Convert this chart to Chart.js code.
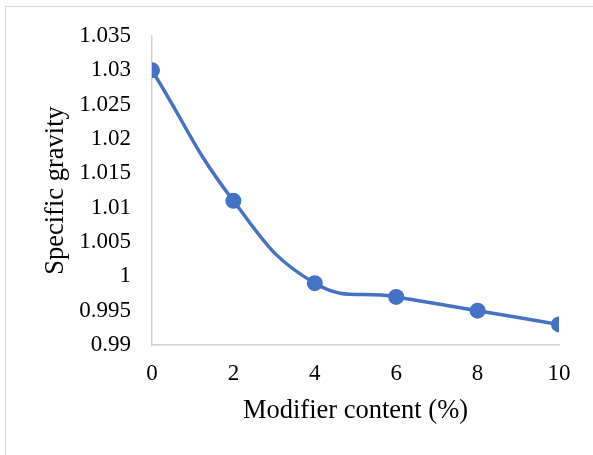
<!DOCTYPE html>
<html>
<head>
<meta charset="utf-8">
<script src="https://cdn.jsdelivr.net/npm/chart.js@4/dist/chart.umd.min.js"></script>
<style>
  html, body { margin: 0; padding: 0; background: #ffffff; }
  #wrap { position: relative; width: 593px; height: 455px; overflow: hidden; }
  #frame { position: absolute; left: 5px; top: 6px; width: 700px; height: 600px;
           border: 1.5px solid #d9d9d9; box-sizing: border-box; }
  #c { position: absolute; left: 0; top: 0; }
</style>
</head>
<body>
<div id="wrap">
  <div id="frame"></div>
  <canvas id="c" width="593" height="455"></canvas>
</div>
<script>
// Modifier content (%) and measured specific gravity
const modifierContent = [0, 2, 4, 6, 8, 10];
const specificGravity = [1.03, 1.011, 0.999, 0.997, 0.995, 0.993];

const xTickValues = [0, 2, 4, 6, 8, 10];
const yTickValues = [0.99, 0.995, 1, 1.005, 1.01, 1.015, 1.02, 1.025, 1.03, 1.035];
const yTickLabels = ['0.99', '0.995', '1', '1.005', '1.01', '1.015', '1.02', '1.025', '1.03', '1.035'];

const xTitle = 'Modifier content (%)';
const yTitle = 'Specific gravity';

const serif = 'Liberation Serif';
const lineColor = '#4472c4';
const axisColor = '#d0d0d0';

const points = modifierContent.map((x, i) => ({ x: x, y: specificGravity[i] }));

new Chart(document.getElementById('c'), {
  type: 'line',
  data: {
    datasets: [{
      data: points,
      borderColor: lineColor,
      backgroundColor: lineColor,
      borderWidth: 3.5,
      pointRadius: 8,
      pointHoverRadius: 8,
      pointBorderWidth: 0,
      tension: 0.45,
      fill: false
    }]
  },
  options: {
    responsive: false,
    animation: false,
    events: [],
    layout: { padding: { top: 36, right: 34, left: 0, bottom: 0 } },
    plugins: { legend: { display: false }, tooltip: { enabled: false } },
    scales: {
      x: {
        type: 'linear',
        min: 0,
        max: 10,
        afterBuildTicks: (axis) => { axis.ticks = xTickValues.map(v => ({ value: v })); },
        afterFit: (axis) => { axis.height = 110; },
        ticks: {
          color: '#000',
          font: { family: serif, size: 23 },
          padding: 15,
          maxRotation: 0,
          callback: (v) => String(v)
        },
        grid: { display: true, drawOnChartArea: false, drawTicks: false },
        border: { display: true, color: axisColor, width: 1.5 },
        title: {
          display: true,
          text: xTitle,
          color: '#000',
          font: { family: serif, size: 26.5 },
          padding: { top: 0, bottom: 28 }
        }
      },
      y: {
        type: 'linear',
        min: 0.99,
        max: 1.035,
        afterBuildTicks: (axis) => { axis.ticks = yTickValues.map(v => ({ value: v })); },
        afterFit: (axis) => { axis.width = 152; },
        ticks: {
          color: '#000',
          font: { family: serif, size: 23 },
          padding: 21,
          callback: (v, i) => yTickLabels[i]
        },
        grid: { display: true, drawOnChartArea: false, drawTicks: false },
        border: { display: true, color: axisColor, width: 1.5 },
        title: {
          display: true,
          text: yTitle,
          color: '#000',
          font: { family: serif, size: 26.5 },
          padding: { top: 40, bottom: 0 }
        }
      }
    }
  }
});
</script>
</body>
</html>
